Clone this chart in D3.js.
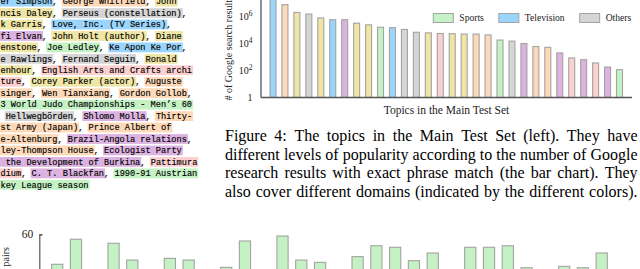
<!DOCTYPE html>
<html>
<head>
<meta charset="utf-8">
<script src="https://cdn.jsdelivr.net/npm/d3@7"></script>
<style>
  body { margin: 0; background: #fff; }
  svg { display: block; }
</style>
</head>
<body>
<div id="chart"></div>
<script>
// left column: topic list, each line is a list of [text, category]
const topicLines = [
  [["er Simpson", "tv"], [", "], ["George Whitfield", "peach"], [", "], ["John", "yellow"]],
  [["ncis Daley", "yellow"], [", "], ["Perseus (constellation)", "others"], [","]],
  [["k Garris", "yellow"], [", "], ["Love, Inc. (TV Series)", "tv"], [","]],
  [["fi Elvan", "purple"], [", "], ["John Holt (author)", "yellow"], [", "], ["Diane", "yellow"]],
  [["enstone", "yellow"], [", "], ["Joe Ledley", "sports"], [", "], ["Ke Apon Ke Por", "tv"], [","]],
  [["e Rawlings", "others"], [", "], ["Fernand Seguin", "others"], [", "], ["Ronald", "yellow"]],
  [["enhour", "yellow"], [", "], ["English Arts and Crafts archi", "pink"]],
  [["ture", "pink"], [", "], ["Corey Parker (actor)", "yellow"], [", "], ["Auguste", "peach"]],
  [["singer", "peach"], [", "], ["Wen Tianxiang", "peach"], [", "], ["Gordon Gollob", "peach"], [","]],
  [["3 World Judo Championships - Men\u2019s 60", "sports"]],
  [[" "], ["Hellwegb\u00f6rden", "others"], [", "], ["Shlomo Molla", "purple"], [", "], ["Thirty-", "peach"]],
  [["st Army (Japan)", "peach"], [", "], ["Prince Albert of", "peach"]],
  [["e-Altenburg", "peach"], [", "], ["Brazil-Angola relations", "purple"], [","]],
  [["ley-Thompson House", "peach"], [", "], ["Ecologist Party", "purple"]],
  [[" the Development of Burkina", "purple"], [", "], ["Pattimura", "pink"]],
  [["dium", "pink"], [", "], ["C. T. Blackfan", "purple"], [", "], ["1990-91 Austrian", "sports"]],
  [["key League season", "sports"]]
];

// top bar chart: google results per topic (log scale)
const topicCategory = ["tv", "peach", "yellow", "others", "yellow", "tv", "purple", "yellow", "yellow", "sports",
  "tv", "others", "others", "yellow", "pink", "yellow", "yellow", "peach", "peach", "sports",
  "others", "purple", "peach", "peach", "purple", "pink", "purple", "pink", "purple", "sports"];
const topicResults = [1e8, 7.5e6, 2.0e6, 1.5e6, 7.8e5, 5.8e5, 5.8e5, 3.2e5, 2.4e5, 1.6e5,
  1.5e5, 1.1e5, 6.8e4, 6.1e4, 5.5e4, 5.3e4, 5.0e4, 5.0e4, 4.3e4, 1.8e4,
  1.5e4, 1.0e4, 6.0e3, 5.2e3, 2.0e3, 850, 630, 360, 180, 115];
const resultTicks = [1, 1e2, 1e4, 1e6];

const legendItems = [["Sports", "sports"], ["Television", "tv"], ["Others", "others"]];

const captionLines = [
  "Figure 4: The topics in the Main Test Set (left). They have",
  "different levels of popularity according to the number of Google",
  "research results with exact phrase match (the bar chart). They",
  "also cover different domains (indicated by the different colors)."
];

// bottom chart: pairs per topic
const pairCounts = [44.3, 57.4, 38, 55.3, 46.5, 38, 47.4, 46.5, 38, 42.7,
  56.5, 38, 59.1, 46.5, 45.3, 38, 48.3, 54, 53.2, 46.2,
  50.2, 38, 53.2, 53.2, 54, 42.5, 38, 43.2, 42.5, 50.2];
const pairTicks = [0, 20, 40, 60];

const palette = {
  sports: "#c4f2c4", tv: "#9bd5fb", others: "#d5d5d5", yellow: "#efe5a4",
  peach: "#fdd9b8", pink: "#fdd0d0", purple: "#dcb3e0"
};

const svg = d3.select("#chart").append("svg")
  .attr("width", 640).attr("height", 269)
  .style("font-family", "'Liberation Serif', 'Times New Roman', serif");

// ---- topic list ----
const cw = 5.18;
const listG = svg.append("g").style("font-family", "'Liberation Mono', monospace").style("font-size", "8.63px");
topicLines.forEach(function(segs, i) {
  const base = 4.3 + 11.45 * i;
  let col = 0;
  segs.forEach(function(s) {
    const str = s[0], cat = s[1];
    const x = 0.5 + col * cw;
    if (cat) {
      listG.append("rect")
        .attr("x", x - 1).attr("y", base - 7.6)
        .attr("width", str.length * cw + 2).attr("height", 9.8)
        .attr("fill", palette[cat]);
    }
    listG.append("text")
      .attr("x", x).attr("y", base)
      .attr("fill", "#000")
      .attr("stroke", "#000").attr("stroke-width", 0.15)
      .style("white-space", "pre")
      .text(str);
    col += str.length;
  });
});

// ---- top bar chart ----
const xTopic = d3.scalePoint().domain(d3.range(topicResults.length)).range([273, 619.5]);
const yResults = d3.scaleLog().domain([1, 1e6]).range([97.5, 16.5]);

svg.append("g").selectAll("rect")
  .data(topicResults)
  .join("rect")
  .attr("x", (d, i) => xTopic(i) - 3)
  .attr("y", d => yResults(d))
  .attr("width", 6)
  .attr("height", d => yResults(1) - yResults(d))
  .attr("fill", (d, i) => palette[topicCategory[i]])
  .attr("stroke", "#a3a3a3")
  .attr("stroke-width", 1.1);

const yAxisG = svg.append("g")
  .attr("transform", "translate(261,0)")
  .call(d3.axisLeft(yResults).tickValues(resultTicks).tickSize(0).tickPadding(8.5));
yAxisG.select(".domain").remove();
yAxisG.selectAll(".tick text")
  .style("font-family", "'Liberation Serif', serif")
  .style("font-size", "10px")
  .attr("fill", "#222")
  .each(function(d) {
    const t = d3.select(this);
    t.text(null);
    if (d === 1) { t.text("1"); return; }
    t.append("tspan").text("10");
    t.append("tspan").attr("dy", -4).style("font-size", "7.5px").text(Math.round(Math.log10(d)));
  });

svg.append("line")
  .attr("x1", 261).attr("x2", 261).attr("y1", -2).attr("y2", yResults(1))
  .attr("stroke", "#555").attr("stroke-width", 1.3);
svg.append("line")
  .attr("x1", 261).attr("x2", 632).attr("y1", yResults(1)).attr("y2", yResults(1))
  .attr("stroke", "#555").attr("stroke-width", 1.3);

svg.append("text")
  .attr("transform", "translate(231.5,100.5) rotate(-90)")
  .style("font-size", "10px").attr("fill", "#222")
  .text("# of Google search results");

svg.append("text")
  .attr("x", 446.5).attr("y", 114)
  .attr("text-anchor", "middle")
  .style("font-size", "11.5px").attr("fill", "#222")
  .text("Topics in the Main Test Set");

// legend
let lx = 433.3;
legendItems.forEach(function(item) {
  svg.append("rect")
    .attr("x", lx).attr("y", 13.5).attr("width", 20).attr("height", 9)
    .attr("fill", palette[item[1]]).attr("stroke", "#a3a3a3").attr("stroke-width", 1);
  const t = svg.append("text")
    .attr("x", lx + 26).attr("y", 21)
    .style("font-size", "9.6px").attr("fill", "#222")
    .text(item[0]);
  lx += 26 + t.node().getComputedTextLength() + 15;
});

// ---- caption (justified) ----
const capG = svg.append("g").style("font-size", "16px").attr("fill", "#000");
const capLeft = 225, capRight = 637.5;
const capBase = [141, 159.5, 178, 196.5];
captionLines.forEach(function(line, i) {
  const words = line.split(" ");
  const nodes = words.map(w => capG.append("text").attr("y", capBase[i]).text(w));
  const widths = nodes.map(n => n.node().getComputedTextLength());
  const gap = (capRight - capLeft - d3.sum(widths)) / (words.length - 1);
  let x = capLeft;
  nodes.forEach(function(n, j) {
    n.attr("x", x);
    x += widths[j] + gap;
  });
});

// ---- bottom bar chart ----
const xPair = d3.scalePoint().domain(d3.range(pairCounts.length)).range([57.2, 601.7]);
const yPair = d3.scaleLinear().domain([0, 60]).range([348.9, 234.3]);

svg.append("g").selectAll("rect")
  .data(pairCounts)
  .join("rect")
  .attr("x", (d, i) => xPair(i) - 5.6)
  .attr("y", d => yPair(d))
  .attr("width", 11.2)
  .attr("height", d => yPair(0) - yPair(d))
  .attr("fill", palette.sports)
  .attr("stroke", "#a3a3a3")
  .attr("stroke-width", 1.1);

const pairAxisG = svg.append("g")
  .attr("transform", "translate(39.3,0)")
  .call(d3.axisLeft(yPair).tickValues(pairTicks).tickSize(-3).tickPadding(6));
pairAxisG.select(".domain").attr("stroke", "#555").attr("stroke-width", 1.2);
pairAxisG.selectAll(".tick line").attr("stroke", "#555").attr("stroke-width", 1.2);
pairAxisG.selectAll(".tick text")
  .style("font-family", "'Liberation Serif', serif")
  .style("font-size", "11.5px")
  .attr("fill", "#222");

svg.append("text")
  .attr("transform", "translate(8.5,247) rotate(-90)")
  .attr("text-anchor", "end")
  .style("font-size", "10px").attr("fill", "#222")
  .text("# of pairs");
</script>
</body>
</html>
